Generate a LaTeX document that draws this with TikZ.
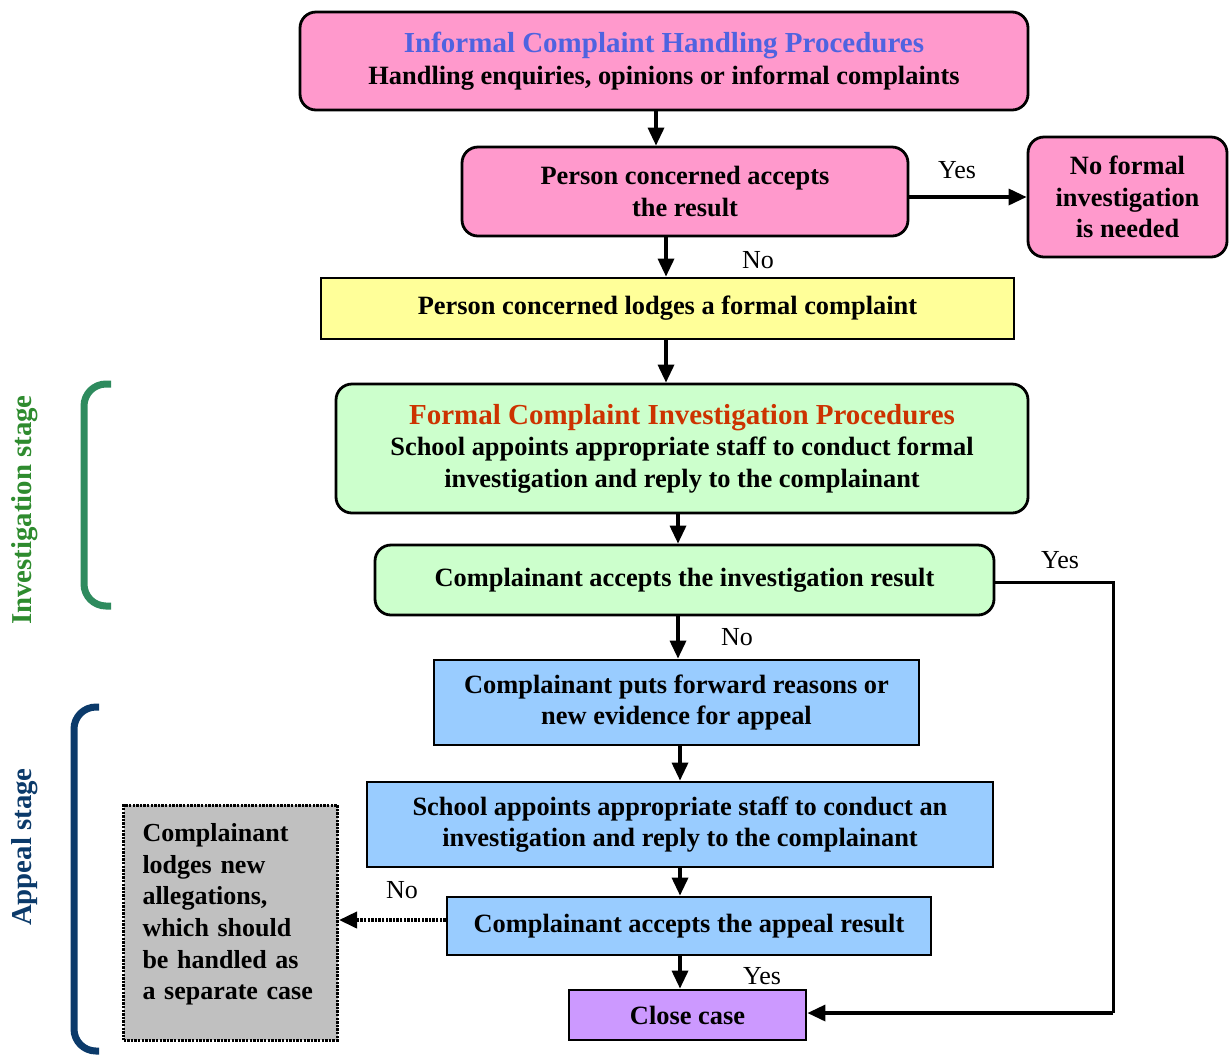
\documentclass[tikz,border=0pt]{standalone}
\usepackage{fontspec}
\setmainfont{Liberation Serif}
\usetikzlibrary{arrows.meta,calc}
\definecolor{cpink}{HTML}{FF99CC}
\definecolor{cyellow}{HTML}{FFFF99}
\definecolor{cgreen}{HTML}{CCFFCC}
\definecolor{cblue}{HTML}{99CCFF}
\definecolor{cpurple}{HTML}{CC99FF}
\definecolor{cgray}{HTML}{C0C0C0}
\definecolor{ttlblue}{HTML}{4F63E0}
\definecolor{ttlred}{HTML}{CC3300}
\definecolor{brgreen}{HTML}{2E8B5E}
\definecolor{lblgreen}{HTML}{2E8B2E}
\definecolor{navy}{HTML}{0B3A6A}
\newcommand{\ttlfont}{\fontsize{14.5}{15.5}\selectfont}
\tikzset{
  box/.style={draw=black, line width=1.4pt, align=center, inner sep=2pt,
    font=\fontsize{13.2}{15.8}\selectfont\bfseries},
  rbox/.style={box, rounded corners=8pt},
  arr/.style={line width=1.7pt, -{Triangle[length=9pt,width=8pt]}},
  darr/.style={line width=1.9pt, dash pattern=on 1.2pt off 0.6pt, -{Triangle[length=9pt,width=8pt]}},
  lbl/.style={font=\fontsize{13}{15}\selectfont, inner sep=0pt},
  bracket/.style={line width=3.5pt, rounded corners=11pt},
  stage/.style={rotate=90, font=\fontsize{14.4}{16}\selectfont\bfseries},
}
\begin{document}
\begin{tikzpicture}[x=0.5pt,y=-0.5pt]
\useasboundingbox (0,0) rectangle (1229,1056);
% nodes
\node[rbox, fill=cpink, minimum width=364pt, minimum height=49pt] (top) at (664,61)
  {{\ttlfont\textcolor{ttlblue}{Informal Complaint Handling Procedures}}\\Handling enquiries, opinions or informal complaints};
\node[rbox, fill=cpink, minimum width=223pt, minimum height=44.5pt] (acc1) at (685,191.5)
  {Person concerned accepts\\the result};
\node[rbox, fill=cpink, minimum width=99.5pt, minimum height=60pt] (nofi) at (1127.5,197)
  {No formal\\investigation\\is needed};
\node[box, fill=cyellow, minimum width=346.5pt, minimum height=30.5pt] (lodge) at (667.5,308.5)
  {Person concerned lodges a formal complaint};
\node[rbox, fill=cgreen, minimum width=346pt, minimum height=64.5pt] (formal) at (682,448.5)
  {{\ttlfont\textcolor{ttlred}{Formal Complaint Investigation Procedures}}\\School appoints appropriate staff to conduct formal\\investigation and reply to the complainant};
\node[rbox, fill=cgreen, minimum width=309.5pt, minimum height=35pt] (acc2) at (684.5,580)
  {Complainant accepts the investigation result};
\node[box, fill=cblue, minimum width=242.5pt, minimum height=42.5pt] (reasons) at (676.5,702.5)
  {Complainant puts forward reasons or\\new evidence for appeal};
\node[box, fill=cblue, minimum width=313pt, minimum height=42.5pt] (appoint) at (680,824.5)
  {School appoints appropriate staff to conduct an\\investigation and reply to the complainant};
\node[box, fill=cblue, minimum width=242pt, minimum height=29pt] (acc3) at (689,926)
  {Complainant accepts the appeal result};
\node[box, fill=cpurple, minimum width=118.5pt, minimum height=25pt] (close) at (687.5,1015)
  {Close case};
\node[box, fill=cgray, line width=1.5pt, dash pattern=on 1.2pt off 0.6pt, minimum width=106.5pt, minimum height=117.5pt,
  font=\fontsize{13}{15.8}\selectfont\bfseries,
  text width=88pt, align=left, inner xsep=9.5pt, inner ysep=0pt] (gray) at (230.5,922.5)
  {Complainant\\lodges new\\allegations,\\which should\\be handled as\\a separate case\\[-5pt]\mbox{}};
% x-coordinates for vertical connectors
\coordinate (x656) at (656,0);
\coordinate (x666) at (666,0);
\coordinate (x678) at (678,0);
\coordinate (x680) at (680,0);
\coordinate (y197) at (0,197);
\coordinate (y582) at (0,582);
\coordinate (y920) at (0,920);
\coordinate (y1013) at (0,1013);
\coordinate (cR) at (1113,582);
\coordinate (cRb) at (1113,1013);
% connectors
\draw[arr] (top.south -| x656) -- (acc1.north -| x656);
\draw[arr] (acc1.south -| x666) -- (lodge.north -| x666);
\draw[arr] (acc1.east |- y197) -- (nofi.west |- y197);
\draw[arr] (lodge.south -| x666) -- (formal.north -| x666);
\draw[arr] (formal.south -| x678) -- (acc2.north -| x678);
\draw[arr] (acc2.south -| x678) -- (reasons.north -| x678);
\draw[arr] (reasons.south -| x680) -- (appoint.north -| x680);
\draw[arr] (appoint.south -| x680) -- (acc3.north -| x680);
\draw[arr] (acc3.south -| x680) -- (close.north -| x680);
\draw[line width=1.5pt] (acc2.east |- y582) -- (cR) -- (cRb);
\draw[arr] (cRb) -- (close.east |- y1013);
\draw[darr] (acc3.west |- y920) -- (gray.east |- y920);
% labels
\node[lbl] (l1) at (957,170) {Yes};
\node[lbl] (l2) at (758,260) {No};
\node[lbl] (l3) at (737,637) {No};
\node[lbl] (l4) at (1060,560) {Yes};
\node[lbl] (l5) at (762,976) {Yes};
\node[lbl] (l6) at (402,890) {No};
% stage brackets
\draw[bracket, brgreen] (111,384) -- (84,384) -- (84,606) -- (111,606);
\draw[bracket, navy] (99,707) -- (74,707) -- (74,1051) -- (99,1051);
\node[stage, text=lblgreen] (st1) at (25,510) {Investigation stage};
\node[stage, text=navy] (st2) at (25,847) {Appeal stage};
\end{tikzpicture}
\end{document}
